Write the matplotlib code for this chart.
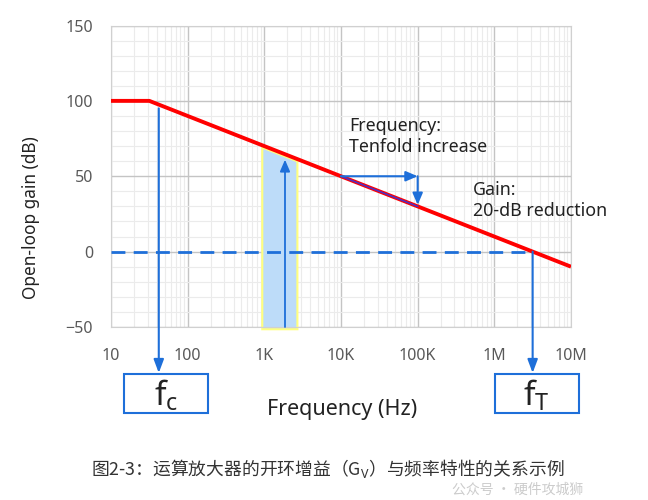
import numpy as np
import matplotlib
matplotlib.use("Agg")
import matplotlib.pyplot as plt
from matplotlib.patches import Rectangle

# ---- data ----
freq_pts = [10, 31.6, 1e7]          # Hz
gain_pts = [100, 100, -10]          # dB
fc_marker = 42                      # Hz (position of fc arrow)
f_T = 3.16e6                        # unity-gain frequency
band_lo, band_hi = 940, 2700        # shaded band (Hz)
band_arrow_f = 1860
band_arrow_top = 61
dec_start, dec_end = 1e4, 1e5       # tenfold increase
gain_start, gain_end = 50, 30       # 20 dB reduction
xticks = [10, 100, 1e3, 1e4, 1e5, 1e6, 1e7]
xticklabels = ["10", "100", "1K", "10K", "100K", "1M", "10M"]
yticks = [-50, 0, 50, 100, 150]

def gain_at(f):
    return np.interp(np.log10(f), np.log10(freq_pts), gain_pts)

plt.rcParams['font.family'] = ['Noto Sans', 'Noto Sans CJK SC', 'DejaVu Sans']
plt.rcParams['mathtext.fontset'] = 'custom'
plt.rcParams['mathtext.rm'] = 'Noto Sans'
plt.rcParams['mathtext.it'] = 'Noto Sans'

BLUE = '#1E6FD9'
RED = '#FF0000'
GREY = '#595959'

fig = plt.figure(figsize=(6.48, 5.0), dpi=100)
ax = fig.add_axes([111/648, 1-327/500, 460/648, (327-25.5)/500])
ax.set_xscale('log')
ax.set_xlim(10, 1e7)
ax.set_ylim(-50, 150)

ax.set_xticks(xticks)
ax.set_xticklabels(xticklabels)
ax.set_yticks(yticks)
ax.set_yticks(np.arange(-50, 151, 10), minor=True)
ax.tick_params(which='both', length=0)
ax.tick_params(axis='x', pad=15, labelsize=11.5, labelcolor=GREY)
ax.tick_params(axis='y', pad=13, labelsize=11.5, labelcolor=GREY)
ax.grid(which='major', color='#C4C4C4', lw=1.0)
ax.grid(which='minor', color='#EBEBEB', lw=0.8)
ax.set_axisbelow(True)
for s in ax.spines.values():
    s.set_color('#D0D0D0')

# shaded band
fb = np.logspace(np.log10(band_lo), np.log10(band_hi), 30)
top = gain_at(fb) - 1.5
xs = np.concatenate([[band_lo], fb, [band_hi]])
ys = np.concatenate([[-51.5], top, [-51.5]])
ax.fill(xs, ys, facecolor='#BDDCF9', edgecolor='#FFFF80', lw=1.5, clip_on=False, zorder=2)
ax.annotate('', xy=(band_arrow_f, band_arrow_top), xytext=(band_arrow_f, -50),
            arrowprops=dict(arrowstyle='-|>,head_length=0.7,head_width=0.3', color=BLUE, lw=1.3,
                            shrinkA=0, shrinkB=0), zorder=3)

# dashed 0 dB line
ax.plot([10, f_T], [0, 0], ls=(0, (5, 3)), color=BLUE, lw=2.0, zorder=3)

# red gain curve
ax.plot(freq_pts, gain_pts, color=RED, lw=2.8, zorder=4, solid_capstyle='butt')

# tenfold / 20 dB arrows
ax.plot([dec_start, dec_end], [gain_start, gain_end], color='#5030C0', lw=1.2, zorder=5)
ax.annotate('', xy=(dec_end, gain_start), xytext=(dec_start, gain_start),
            arrowprops=dict(arrowstyle='-|>,head_length=0.7,head_width=0.3', color=BLUE, lw=1.5,
                            shrinkA=0, shrinkB=0), zorder=5)
ax.annotate('', xy=(dec_end, gain_end + 1), xytext=(dec_end, gain_start),
            arrowprops=dict(arrowstyle='-|>,head_length=0.7,head_width=0.3', color=BLUE, lw=1.5,
                            shrinkA=0, shrinkB=0), zorder=5)

# fc and fT arrows to boxes
ax.annotate('', xy=(fc_marker, -80.5), xytext=(fc_marker, gain_at(fc_marker) - 2.5),
            arrowprops=dict(arrowstyle='-|>,head_length=0.8,head_width=0.3', color=BLUE, lw=1.5,
                            shrinkA=0, shrinkB=0), annotation_clip=False, zorder=5)
ax.annotate('', xy=(f_T, -80.5), xytext=(f_T, 0),
            arrowprops=dict(arrowstyle='-|>,head_length=0.8,head_width=0.3', color=BLUE, lw=1.5,
                            shrinkA=0, shrinkB=0), annotation_clip=False, zorder=5)

# boxes
for (x0, x1, lab) in [(123.5, 208, r'$\mathrm{f_c}$'), (494.5, 579, r'$\mathrm{f_T}$')]:
    r = Rectangle((x0/648, 1-412.5/500), (x1-x0)/648, (412.5-374)/500,
                  transform=fig.transFigure, facecolor='white', edgecolor=BLUE, lw=1.5)
    fig.add_artist(r)
    fig.text((x0+x1)/2/648, 1-396/500, lab, ha='center', va='center', fontsize=24, color='#222222')

# annotations
fig.text(349/648, 1-117/500, "Frequency:\nTenfold increase", ha='left', va='top',
         fontsize=12.8, color='#222222', linespacing=1.2)
fig.text(473/648, 1-181/500, "Gain:\n20-dB reduction", ha='left', va='top',
         fontsize=12.8, color='#222222', linespacing=1.2)

# axis labels
fig.text(31/648, 1-218/500, "Open-loop gain (dB)", rotation=90, ha='center', va='center',
         fontsize=12.4, color='#222222')
fig.text(342/648, 1-410/500, "Frequency (Hz)", ha='center', va='center',
         fontsize=15.5, color='#222222')

# watermark (kept faint, just under the caption)
fig.text(452/648, 1-490/500, "公众号 · 硬件攻城狮", ha='left', va='center', fontsize=10,
         color='#CCCCCC', family=['Noto Sans CJK SC', 'DejaVu Sans'], zorder=0)
# caption
fig.text(328/648, 1-469/500, "图2-3：运算放大器的开环增益（G$_\\mathrm{V}$）与频率特性的关系示例",
         ha='center', va='center', fontsize=12.8, color='#333333',
         family=['Noto Sans CJK SC', 'DejaVu Sans'])

fig.savefig('out.png', dpi=100)
